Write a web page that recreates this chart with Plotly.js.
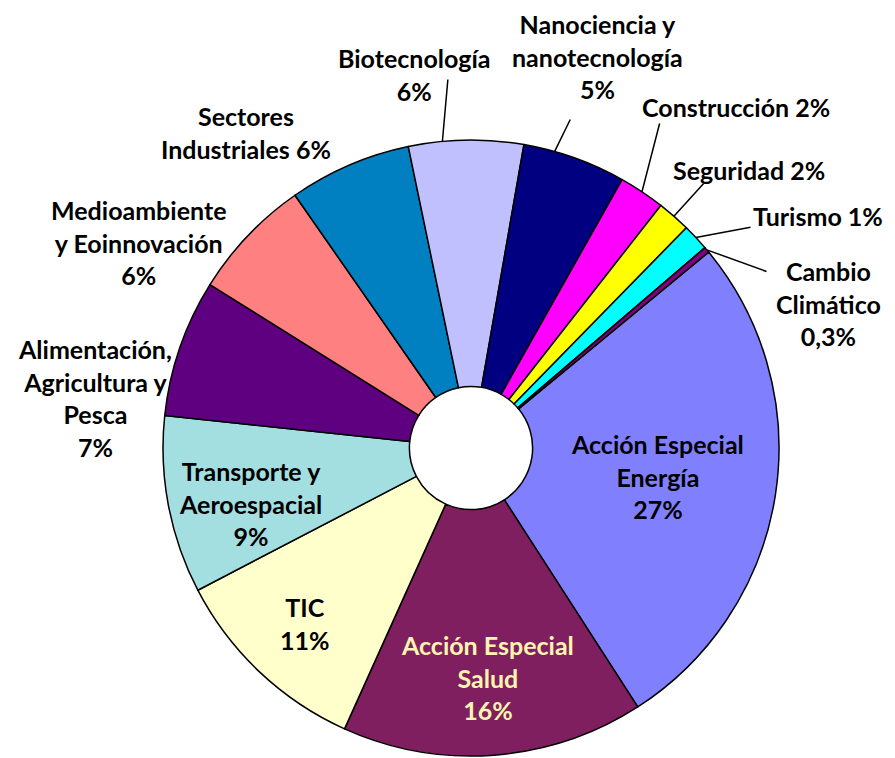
<!DOCTYPE html>
<html>
<head>
<meta charset="utf-8">
<script src="https://cdn.plot.ly/plotly-3.0.1.min.js"></script>
<style>
  html, body { margin: 0; padding: 0; background: #ffffff; }
  #chart { width: 895px; height: 758px; }
</style>
</head>
<body>
<div id="chart"></div>
<script>
// ---- Data ----
const categories = [
  'Acción Especial Energía', 'Acción Especial Salud', 'TIC',
  'Transporte y Aeroespacial', 'Alimentación, Agricultura y Pesca',
  'Medioambiente y Eoinnovación', 'Sectores Industriales', 'Biotecnología',
  'Nanociencia y nanotecnología', 'Construcción', 'Seguridad', 'Turismo',
  'Cambio Climático'
];
const shares = [26.8, 15.8, 10.6, 9.3, 7.2, 6.4, 6.4, 6.0, 5.4, 2.4, 1.75, 1.4, 0.3];
const percentLabels = ['27%', '16%', '11%', '9%', '7%', '6%', '6%', '6%', '5%', '2%', '2%', '1%', '0,3%'];
const displayNames = [
  'Acción Especial<br>Energía', 'Acción Especial<br>Salud', 'TIC',
  'Transporte y<br>Aeroespacial', 'Alimentación,<br>Agricultura y<br>Pesca',
  'Medioambiente<br>y Eoinnovación', 'Sectores<br>Industriales', 'Biotecnología',
  'Nanociencia y<br>nanotecnología', 'Construcción', 'Seguridad', 'Turismo',
  'Cambio<br>Climático'
];
const separators = ['<br>', '<br>', '<br>', '<br>', '<br>', '<br>', ' ', '<br>', '<br>', ' ', ' ', ' ', '<br>'];

// ---- Styling ----
const colors = ['#8080FF', '#7F1F5F', '#FFFFCC', '#A3DEE0', '#5F0080', '#FF8080',
                '#0080C0', '#C0C0FF', '#000080', '#FF00FF', '#FFFF00', '#00FFFF', '#800080'];
const textColors = ['#000', '#FFF4B0', '#000', '#000', '#000', '#000', '#000', '#000',
                    '#000', '#000', '#000', '#000', '#000'];
// label centres (px), leader-line starts (px, null = no leader line), leader tip angle offsets (deg)
const labelCenters = [[657, 476], [487, 677], [305, 623], [250, 503], [95, 398], [138, 242],
                      [246, 132], [414, 75], [597, 57], [736, 107], [749, 170], [818, 216], [828, 303]];
const leaderStarts = [null, null, null, null, null, null, null,
                      [448, 78], [571, 118], [660, 122], [705, 182], [752, 227], [768, 272]];
const leaderTipShift = [0, 0, 0, 0, 0, 0, 0, -4.4, -3.9, 0, 0, 0, 0];

const W = 895, H = 758;
const M = { l: 163, r: 116, t: 140, b: 2 };
const PW = W - M.l - M.r, PH = H - M.t - M.b;
const CX = M.l + PW / 2, CY = M.t + PH / 2, R = Math.min(PW, PH) / 2;
const ROT = 50.5;

const toPaperX = px => (px - M.l) / PW;
const toPaperY = py => 1 - (py - M.t) / PH;

const total = shares.reduce((a, b) => a + b, 0);
const annotations = [];
let acc = 0;
shares.forEach((v, i) => {
  const mid = (ROT + (acc + v / 2) / total * 360 + leaderTipShift[i]) * Math.PI / 180;
  acc += v;
  const [lx, ly] = labelCenters[i];
  annotations.push({
    xref: 'paper', yref: 'paper', x: toPaperX(lx), y: toPaperY(ly),
    xanchor: 'center', yanchor: 'middle', showarrow: false,
    text: '<b>' + displayNames[i] + separators[i] + percentLabels[i] + '</b>',
    font: { family: 'Lato, "Open Sans", sans-serif', size: 25, color: textColors[i] },
    align: 'center'
  });
  if (leaderStarts[i]) {
    const tx = CX + R * Math.sin(mid), ty = CY - R * Math.cos(mid);
    annotations.push({
      xref: 'paper', yref: 'paper', x: toPaperX(tx), y: toPaperY(ty),
      text: '', showarrow: true, arrowhead: 0, arrowwidth: 1.5, arrowcolor: '#000',
      standoff: 0, startstandoff: 0,
      ax: leaderStarts[i][0] - tx, ay: leaderStarts[i][1] - ty
    });
  }
});

const trace = {
  type: 'pie',
  labels: categories,
  values: shares,
  sort: false,
  direction: 'clockwise',
  rotation: ROT,
  hole: 0.2,
  textinfo: 'none',
  hoverinfo: 'label+percent',
  marker: { colors: colors, line: { color: '#000000', width: 1.5 } }
};

const layout = {
  width: W, height: H,
  margin: M,
  showlegend: false,
  paper_bgcolor: '#ffffff',
  plot_bgcolor: '#ffffff',
  annotations: annotations
};

Plotly.newPlot('chart', [trace], layout, { displayModeBar: false, staticPlot: true });
</script>
</body>
</html>
